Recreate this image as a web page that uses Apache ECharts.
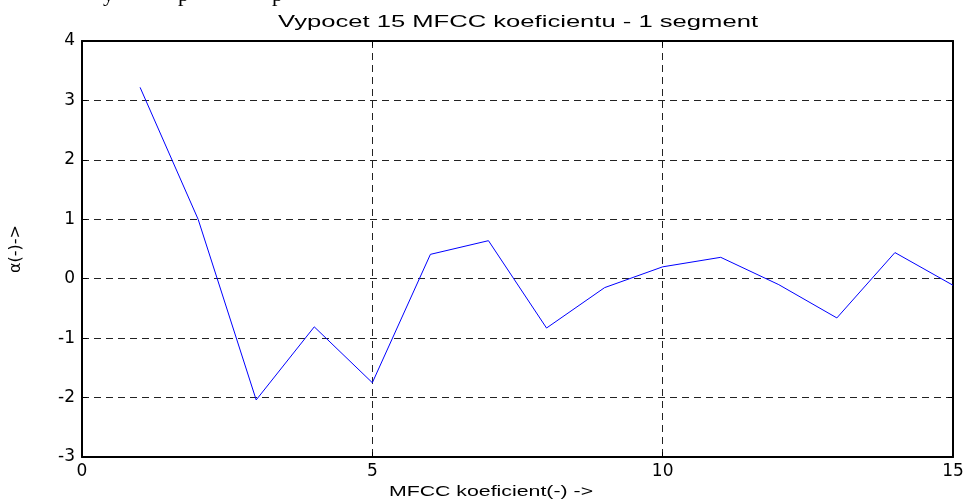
<!DOCTYPE html>
<html>
<head>
<meta charset="utf-8">
<script src="https://cdn.jsdelivr.net/npm/echarts@6/dist/echarts.min.js"></script>
<style>
  html, body { margin: 0; padding: 0; background: #fff; }
  #chart { width: 967px; height: 502px; }
</style>
</head>
<body>
<div id="chart"></div>
<script>
// coefficient index and value for one segment
const coefIndex = [1, 2, 3, 4, 5, 6, 7, 8, 9, 10, 11, 12, 13, 14, 15];
const coefValue = [3.22, 1.0, -2.04, -0.81, -1.75, 0.41, 0.64, -0.83, -0.15, 0.20, 0.36, -0.10, -0.66, 0.44, -0.11];
const xTicks = [0, 5, 10, 15];
const yTicks = [-3, -2, -1, 0, 1, 2, 3, 4];

const titleText = 'Vypocet 15 MFCC koeficientu - 1 segment';
const xName = 'MFCC koeficient(-) ->';
const yName = 'α(-)->';

const chart = echarts.init(document.getElementById('chart'));

const font = 'DejaVu Sans';
const gridLine = { show: true, lineStyle: { color: '#222', type: [7, 5], width: 1 } };
const frame = { show: true, onZero: false, lineStyle: { color: '#000', width: 2 } };
const ticks = { show: true, inside: true, length: 5, lineStyle: { color: '#000' } };

const option = {
  backgroundColor: '#fff',
  animation: false,
  grid: { left: 82, right: 14, top: 41, bottom: 45 },
  graphic: [
    // clipped caption from the page above the figure
    { type: 'text', x: 103, y: -16, style: { text: 'y', font: '22px "Liberation Serif"', fill: '#000' } },
    { type: 'text', x: 178, y: -16, style: { text: 'p', font: '22px "Liberation Serif"', fill: '#000' } },
    { type: 'text', x: 272, y: -16, style: { text: 'p', font: '22px "Liberation Serif"', fill: '#000' } },
    {
      type: 'text', x: 518, y: 23, scaleX: 1.6,
      style: { text: titleText, font: '16px "Liberation Sans"', fill: '#000', align: 'center', verticalAlign: 'middle' }
    },
    {
      type: 'text', x: 491, y: 492, scaleX: 1.42,
      style: { text: xName, font: '15px "Liberation Sans"', fill: '#000', align: 'center', verticalAlign: 'middle' }
    }
  ],
  xAxis: [
    {
      type: 'value', min: 0, max: 15, interval: 5,
      axisLine: frame,
      axisTick: ticks,
      axisLabel: { color: '#000', fontFamily: font, fontSize: 17, margin: 6,
        formatter: v => xTicks.includes(v) ? String(v) : '' },
      splitLine: gridLine
    },
    {
      type: 'value', min: 0, max: 15, interval: 5, position: 'top',
      axisLine: frame,
      axisTick: ticks,
      axisLabel: { show: false },
      splitLine: { show: false }
    }
  ],
  yAxis: [
    {
      type: 'value', min: -3, max: 4, interval: 1,
      name: yName, nameLocation: 'middle', nameGap: 58, nameRotate: 90,
      nameTextStyle: { color: '#000', fontFamily: font, fontSize: 16 },
      axisLine: frame,
      axisTick: ticks,
      axisLabel: { color: '#000', fontFamily: font, fontSize: 17, margin: 7,
        formatter: v => yTicks.includes(v) ? String(v) : '' },
      splitLine: gridLine
    },
    {
      type: 'value', min: -3, max: 4, interval: 1, position: 'right',
      axisLine: frame,
      axisTick: ticks,
      axisLabel: { show: false },
      splitLine: { show: false }
    }
  ],
  series: [
    {
      type: 'line',
      data: coefIndex.map((x, i) => [x, coefValue[i]]),
      showSymbol: false,
      lineStyle: { color: '#0000ff', width: 1 },
      itemStyle: { color: '#0000ff' }
    }
  ]
};

chart.setOption(option);
</script>
</body>
</html>
